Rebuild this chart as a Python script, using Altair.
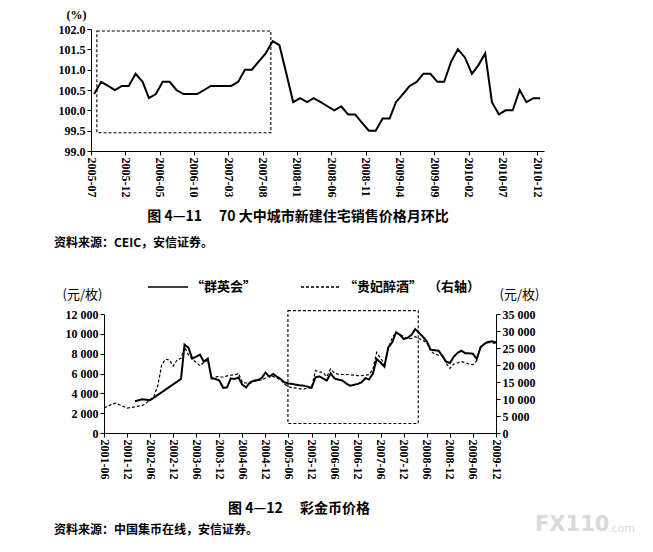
import altair as alt
import pandas as pd

FONT_NUM = "Liberation Serif"
FONT_CJK = "Noto Sans CJK SC"

# ---------------- Figure 4-11 data ----------------
house_start = "2005-07"
house_values = [
    100.4, 100.7, 100.6, 100.5, 100.6, 100.6, 100.9, 100.7, 100.3, 100.4,
    100.7, 100.7, 100.5, 100.4, 100.4, 100.4, 100.5, 100.6, 100.6, 100.6,
    100.6, 100.7, 101.0, 101.0, 101.2, 101.4, 101.7, 101.6, 100.9, 100.2,
    100.3, 100.2, 100.3, 100.2, 100.1, 100.0, 100.1, 99.9, 99.9, 99.7,
    99.5, 99.5, 99.8, 99.8, 100.2, 100.4, 100.6, 100.7, 100.9, 100.9,
    100.7, 100.7, 101.2, 101.5, 101.3, 100.9, 101.1, 101.4, 100.2, 99.9,
    100.0, 100.0, 100.5, 100.2, 100.3, 100.3,
]
house_ticks = ["2005-07", "2005-12", "2006-05", "2006-10", "2007-03", "2007-08",
               "2008-01", "2008-06", "2008-11", "2009-04", "2009-09", "2010-02",
               "2010-07", "2010-12"]
house_y_ticks = [99.0, 99.5, 100.0, 100.5, 101.0, 101.5, 102.0]
house_box_x = ["2005-07-27", "2007-09-07"]
house_box_y = [99.45, 101.95]
caption1 = "图 4—11\u3000\u00a070 大中城市新建住宅销售价格月环比"
source1 = "资料来源：CEIC，安信证券。"

# ---------------- Figure 4-12 data ----------------
qyh_name = "“群英会”"
gfzj_name = "“贵妃醉酒”\u00a0\u00a0（右轴）"
qyh_months = ["2002-02", "2002-04", "2002-06"] + [str(p) for p in pd.period_range("2003-02", "2009-12", freq="M")]
qyh_values = [
    3200, 3400, 3300,
    5450, 8900, 8600, 7500, 7700, 7900, 7200, 7500, 5500, 5450,
    5300, 4550, 4600, 5500, 5450, 5600, 4870, 4600, 5110, 5280,
    5340, 5540, 6100, 5680, 5950, 5680, 5440, 5100, 5000, 4940,
    4870, 4800, 4770, 4670, 4550, 5610, 5700, 5500, 5300, 6010,
    5500, 5380, 5300, 5000, 4770, 4850, 4940, 5110, 5540, 5400,
    6000, 7460, 7100, 6690, 8640, 9140, 10150, 9900, 9480, 9600,
    9900, 10480, 10100, 9700, 9240, 8400, 8350, 8300, 7800, 7200,
    7050, 7700, 8100, 8300, 8050, 8030, 8000, 7460, 8640, 9000,
    9200, 9240, 9140,
]
gfzj_start = "2001-06"
gfzj_values = [
    7400, 7900, 8400, 8800, 8300, 7800, 7300, 7500, 7700, 7900,
    8100, 8800, 9800, 10800, 13900, 20000, 21700, 21500, 19700, 21500,
    22000, 25200, 23000, 21700, 20800, 19800, 20800, 21500, 16300, 16500,
    16600, 16400, 16800, 17000, 17100, 17500, 14900, 14700, 14600, 15200,
    15400, 15600, 16200, 16900, 16600, 16200, 15600, 14400, 13600, 13300,
    13200, 13000, 12900, 13300, 13300, 18400, 18000, 17800, 16600, 18800,
    17600, 17300, 17200, 17200, 17100, 17000, 16900, 16900, 17000, 17150,
    18800, 23700, 22000, 20300, 25000, 28000, 29600, 29000, 28300, 27700,
    27800, 28300, 27800, 27200, 26600, 24200, 23200, 22900, 22700, 20500,
    19000, 20300, 20600, 21000, 20700, 20300, 20100, 21300, 25500, 26200,
    26600, 26500, 26300,
]
coin_ticks = ["2001-06", "2001-12", "2002-06", "2002-12", "2003-06", "2003-12",
              "2004-06", "2004-12", "2005-06", "2005-12", "2006-06", "2006-12",
              "2007-06", "2007-12", "2008-06", "2008-12", "2009-06", "2009-12"]
coin_left_ticks = [0, 2000, 4000, 6000, 8000, 10000, 12000]
coin_right_ticks = [0, 5000, 10000, 15000, 20000, 25000, 30000, 35000]
coin_box_x = ["2005-05-28", "2008-03-25"]
coin_box_y = [960, 12340]
caption2 = "图 4—12\u3000\u00a0彩金币价格"
source2 = "资料来源：中国集币在线，安信证券。"
watermark_main = "FX110"
watermark_tail = ".com"


def dt(s):
    p = [int(v) for v in s.split("-")]
    return alt.DateTime(year=p[0], month=p[1], date=p[2] if len(p) > 2 else 1)


SPACE_FMT = "replace(format(datum.value, ','), ',', ' ')"


def text_layer(txt, x, y, size=12, weight="bold", align="left", font=FONT_CJK, color="black"):
    return alt.Chart(pd.DataFrame({"t": [txt]})).mark_text(
        font=font, fontWeight=weight, fontSize=size, align=align, baseline="middle", color=color
    ).encode(x=alt.value(x), y=alt.value(y), text="t:N")


# ---------------- panel 1 ----------------
house_df = pd.DataFrame({
    "date": pd.period_range(house_start, periods=len(house_values), freq="M").to_timestamp() + pd.Timedelta(days=14),
    "value": house_values,
})
box1_df = pd.DataFrame({"date": [pd.Timestamp(house_box_x[0])], "date2": [pd.Timestamp(house_box_x[1])],
                        "value": [house_box_y[0]], "value2": [house_box_y[1]]})

x1_scale = alt.Scale(domain=[dt("2005-07"), dt("2011-01")], nice=False)
y1_scale = alt.Scale(domain=[99, 102], nice=False, zero=False)
x1_axis = alt.Axis(values=[dt(t) for t in house_ticks], format="%Y-%m", labelAngle=90,
                   labelFlush=False, labelOverlap=False, title=None)
y1_axis = alt.Axis(values=house_y_ticks, format=".1f", title="(%)", titleAngle=0,
                   titleX=-15, titleY=-11, titleAlign="center", titleBaseline="alphabetic",
                   titleFont=FONT_NUM, titleFontWeight="bold", titleFontSize=12,
                   labelOverlap=False, labelFlush=False)

line1 = alt.Chart(house_df).mark_line(color="black", strokeWidth=2).encode(
    x=alt.X("date:T", scale=x1_scale, axis=x1_axis),
    y=alt.Y("value:Q", scale=y1_scale, axis=y1_axis),
)
box1 = alt.Chart(box1_df).mark_rect(fillOpacity=0, stroke="black", strokeDash=[3, 2], strokeWidth=1.1).encode(
    x=alt.X("date:T", scale=x1_scale, axis=x1_axis), x2="date2:T",
    y=alt.Y("value:Q", scale=y1_scale, axis=y1_axis), y2="value2:Q",
)
cap1 = text_layer(caption1, 207, 188, size=14, align="center")
src1 = text_layer(source1, -37, 214)

panel1 = alt.layer(line1, box1, cap1, src1).properties(width=453, height=122)

# ---------------- panel 2 ----------------
qyh_df = pd.DataFrame({"date": pd.to_datetime([m + "-01" for m in qyh_months]),
                       "value": qyh_values, "series": qyh_name})
gfzj_df = pd.DataFrame({
    "date": pd.period_range(gfzj_start, periods=len(gfzj_values), freq="M").to_timestamp(),
    "value": gfzj_values, "series": gfzj_name,
})
box2_df = pd.DataFrame({"date": [pd.Timestamp(coin_box_x[0])], "date2": [pd.Timestamp(coin_box_x[1])],
                        "value": [coin_box_y[0]], "value2": [coin_box_y[1]]})

x2_scale = alt.Scale(domain=[dt("2001-06"), dt("2009-12")], nice=False, range=[13, 405])
yl_scale = alt.Scale(domain=[0, 12000], nice=False)
yr_scale = alt.Scale(domain=[0, 35000], nice=False)
x2_axis = alt.Axis(values=[dt(t) for t in coin_ticks], format="%Y-%m", labelAngle=90,
                   labelFlush=False, labelOverlap=False, title=None)
yl_axis = alt.Axis(values=coin_left_ticks, labelExpr=SPACE_FMT, title="(元/枚)", titleAngle=0,
                   titleX=-22, titleY=-16, titleAlign="center", titleBaseline="alphabetic",
                   titleFont=FONT_CJK, titleFontWeight="normal", titleFontSize=13,
                   labelOverlap=False, labelFlush=False, offset=-13)
yr_axis = alt.Axis(orient="right", values=coin_right_ticks, labelExpr=SPACE_FMT, title="(元/枚)",
                   titleAngle=0, titleX=23, titleY=-16, titleAlign="center",
                   titleBaseline="alphabetic", titleFont=FONT_CJK, titleFontWeight="normal",
                   titleFontSize=13, labelOverlap=False, labelFlush=False)

dash_enc = alt.StrokeDash(
    "series:N",
    scale=alt.Scale(domain=[qyh_name, gfzj_name], range=[[1, 0], [3, 2]]),
    legend=alt.Legend(orient="none", legendX=56, legendY=-48, direction="horizontal", title=None,
                      symbolType="stroke", symbolSize=1600, symbolStrokeColor="black",
                      symbolStrokeWidth=1.6, labelFont=FONT_CJK, labelFontSize=13,
                      labelFontWeight="bold", labelColor="black", columnPadding=40, labelOffset=2),
)

solid = alt.Chart(qyh_df).mark_line(color="black", strokeWidth=2).encode(
    x=alt.X("date:T", scale=x2_scale, axis=x2_axis),
    y=alt.Y("value:Q", scale=yl_scale, axis=yl_axis),
    strokeDash=dash_enc,
)
box2 = alt.Chart(box2_df).mark_rect(fillOpacity=0, stroke="black", strokeDash=[3, 2], strokeWidth=1.1).encode(
    x=alt.X("date:T", scale=x2_scale, axis=x2_axis), x2="date2:T",
    y=alt.Y("value:Q", scale=yl_scale, axis=yl_axis), y2="value2:Q",
)
dashed = alt.Chart(gfzj_df).mark_line(color="black", strokeWidth=1.2).encode(
    x=alt.X("date:T", scale=x2_scale, axis=x2_axis),
    y=alt.Y("value:Q", scale=yr_scale, axis=yr_axis),
    strokeDash=dash_enc,
)
cap2 = text_layer(caption2, 208, 195, size=14, align="center")
src2 = text_layer(source2, -37, 216)
wm1 = text_layer(watermark_main, 444, 211, size=21, font="DejaVu Sans", color="#d9d9d9")
wm2 = text_layer(watermark_tail, 517, 215, size=11, font="DejaVu Sans", weight="normal", color="#d9d9d9")

panel2 = alt.layer(
    alt.layer(solid, box2), dashed, cap2, src2, wm1, wm2
).resolve_scale(y="independent").properties(width=405, height=119)

chart = alt.vconcat(panel1, panel2, spacing=17).resolve_legend(strokeDash="independent").properties(
    padding={"left": 46, "top": 0, "right": 0, "bottom": 0}
).configure_view(stroke=None).configure_axis(
    domainColor="black", tickColor="black", labelColor="black", titleColor="black",
    labelFont=FONT_NUM, labelFontSize=12, labelFontWeight="bold", grid=False,
    tickSize=4, labelPadding=2, domainWidth=1,
)

chart.save("out.html", embed_options={"renderer": "svg", "actions": False})
